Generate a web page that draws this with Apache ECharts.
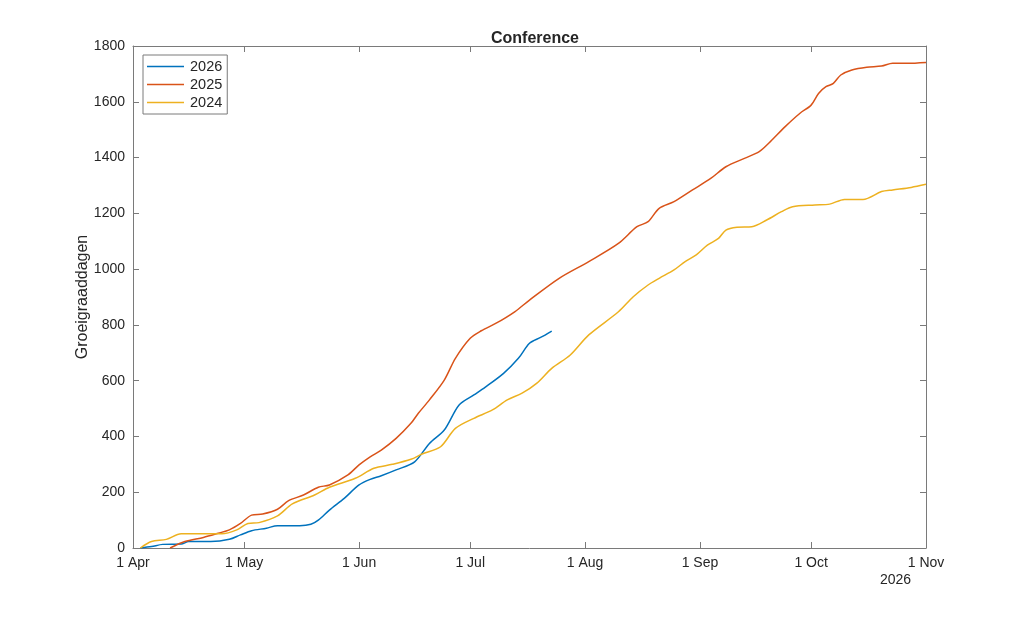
<!DOCTYPE html>
<html>
<head>
<meta charset="utf-8">
<title>Conference</title>
<script src="https://cdn.jsdelivr.net/npm/echarts@6/dist/echarts.min.js"></script>
<style>
  html, body { margin: 0; padding: 0; background: #fff; }
  #chart { width: 1024px; height: 617px; }
</style>
</head>
<body>
<div id="chart"></div>
<script>
// Groeigraaddagen per jaar
var dates2026 = ['2026-04-03','2026-04-06','2026-04-09','2026-04-14','2026-04-16','2026-04-22','2026-04-27','2026-04-30',
  '2026-05-03','2026-05-07','2026-05-10','2026-05-16','2026-05-19','2026-05-21','2026-05-24','2026-05-28',
  '2026-06-01','2026-06-04','2026-06-07','2026-06-11','2026-06-16','2026-06-20','2026-06-24','2026-06-28',
  '2026-07-02','2026-07-05','2026-07-10','2026-07-14','2026-07-17','2026-07-20','2026-07-23'];
var values2026 = [0, 5, 13, 14, 23, 23, 31, 47,
  62, 71, 80, 80, 85, 100, 136, 178,
  226, 246, 259, 280, 309, 375, 423, 513,
  549, 576, 626, 680, 734, 755, 778];

var dates2025 = ['2026-04-11','2026-04-15','2026-04-20','2026-04-24','2026-04-27','2026-04-30',
  '2026-05-03','2026-05-06','2026-05-10','2026-05-13','2026-05-17','2026-05-21','2026-05-24','2026-05-29',
  '2026-06-01','2026-06-04','2026-06-07','2026-06-11','2026-06-15','2026-06-17','2026-06-20','2026-06-24','2026-06-27',
  '2026-07-01','2026-07-04','2026-07-08','2026-07-13','2026-07-17','2026-07-25',
  '2026-08-02','2026-08-10','2026-08-15','2026-08-18','2026-08-21','2026-08-25','2026-08-30',
  '2026-09-04','2026-09-08','2026-09-13','2026-09-17','2026-09-20','2026-09-24','2026-09-28',
  '2026-10-01','2026-10-03','2026-10-05','2026-10-07','2026-10-09','2026-10-12','2026-10-16','2026-10-20','2026-10-23','2026-10-27',
  '2026-11-01'];
var values2025 = [0, 23, 38, 53, 65, 88,
  118, 122, 139, 170, 190, 218, 226, 262,
  298, 327, 351, 393, 447, 483, 531, 602, 680,
  752, 779, 806, 847, 889, 967,
  1027, 1092, 1152, 1170, 1218, 1242, 1284,
  1326, 1367, 1397, 1421, 1457, 1511, 1559,
  1588, 1630, 1654, 1666, 1696, 1714, 1724, 1728, 1738, 1738,
  1741];

var dates2024 = ['2026-04-03','2026-04-06','2026-04-10','2026-04-14','2026-04-19','2026-04-25','2026-04-29',
  '2026-05-02','2026-05-05','2026-05-10','2026-05-14','2026-05-20','2026-05-24','2026-05-31',
  '2026-06-05','2026-06-10','2026-06-15','2026-06-18','2026-06-23','2026-06-27',
  '2026-07-02','2026-07-07','2026-07-11','2026-07-15','2026-07-19','2026-07-23','2026-07-28',
  '2026-08-02','2026-08-10','2026-08-14','2026-08-18','2026-08-21','2026-08-25','2026-08-28','2026-08-31',
  '2026-09-03','2026-09-06','2026-09-08','2026-09-11','2026-09-15','2026-09-19','2026-09-23','2026-09-26',
  '2026-10-02','2026-10-06','2026-10-10','2026-10-15','2026-10-20','2026-10-23','2026-10-28',
  '2026-11-01'];
var values2024 = [0, 23, 31, 51, 51, 51, 65,
  88, 91, 115, 158, 190, 218, 250,
  286, 300, 318, 337, 363, 429,
  465, 495, 531, 555, 591, 644, 692,
  764, 847, 901, 943, 967, 997, 1027, 1051,
  1086, 1110, 1140, 1150, 1152, 1176, 1206, 1224,
  1230, 1233, 1250, 1250, 1278, 1284, 1293,
  1304];

var tickDates = ['2026-04-01','2026-05-01','2026-06-01','2026-07-01','2026-08-01','2026-09-01','2026-10-01','2026-11-01'];
var tickLabels = ['1 Apr','1 May','1 Jun','1 Jul','1 Aug','1 Sep','1 Oct','1 Nov'];

function toTime(s) {
  var p = s.split('-');
  return new Date(+p[0], +p[1] - 1, +p[2]).getTime();
}
function pairs(ds, vs) {
  return ds.map(function (d, i) { return [toTime(d), vs[i]]; });
}
var tickTimes = tickDates.map(toTime);

var chart = echarts.init(document.getElementById('chart'));
var font = 'Liberation Sans, Arial, Helvetica, sans-serif';
var axisColor = '#7a7a7a';
var textColor = '#262626';

function lineSeries(name, data, color) {
  return {
    name: name,
    type: 'line',
    data: data,
    showSymbol: false,
    smooth: 0.3,
    lineStyle: { color: color, width: 1.5 },
    itemStyle: { color: color },
    emphasis: { disabled: true },
    z: 3
  };
}

// x axis is a plain value axis holding timestamps, ticks at month starts
function xAxisBase(pos, showLabels) {
  return {
    type: 'value',
    position: pos,
    min: tickTimes[0],
    max: tickTimes[tickTimes.length - 1],
    axisLine: { show: true, onZero: false, lineStyle: { color: axisColor, width: 1 } },
    axisTick: { show: true, inside: true, length: 6, customValues: tickTimes, lineStyle: { color: axisColor } },
    axisLabel: {
      show: showLabels,
      customValues: tickTimes,
      fontSize: 14,
      color: textColor,
      margin: 8,
      formatter: function (v) {
        var i = tickTimes.indexOf(v);
        return i >= 0 ? tickLabels[i] : '';
      }
    },
    splitLine: { show: false }
  };
}

var option = {
  animation: false,
  backgroundColor: '#fff',
  textStyle: { fontFamily: font },
  title: {
    text: 'Conference',
    left: 530,
    textAlign: 'center',
    top: 26,
    textStyle: { fontSize: 16, fontWeight: 'bold', color: textColor, fontFamily: font }
  },
  legend: {
    orient: 'vertical',
    left: 143,
    top: 55,
    itemWidth: 37,
    itemHeight: 1.5,
    itemGap: 3,
    icon: 'rect',
    padding: [4, 5, 4, 4],
    borderColor: axisColor,
    borderWidth: 1,
    backgroundColor: '#fff',
    textStyle: { fontSize: 14.5, color: textColor, fontFamily: font, padding: [0, 0, 0, 1] },
    data: ['2026', '2025', '2024']
  },
  grid: { left: 133, right: 98, top: 46, bottom: 69, containLabel: false },
  xAxis: [xAxisBase('bottom', true), xAxisBase('top', false)],
  yAxis: [{
    type: 'value',
    min: 0,
    max: 1800,
    interval: 200,
    name: 'Groeigraaddagen',
    nameLocation: 'middle',
    nameGap: 42,
    nameMoveOverlap: false,
    nameTextStyle: { fontSize: 16, color: textColor, fontFamily: font },
    axisLine: { show: true, lineStyle: { color: axisColor, width: 1 } },
    axisTick: { show: true, inside: true, length: 6, lineStyle: { color: axisColor } },
    axisLabel: { fontSize: 14, color: textColor, margin: 8, formatter: function (v) { return String(v); } },
    splitLine: { show: false }
  }, {
    type: 'value',
    position: 'right',
    min: 0,
    max: 1800,
    interval: 200,
    axisLine: { show: true, onZero: false, lineStyle: { color: axisColor, width: 1 } },
    axisTick: { show: true, inside: true, length: 6, lineStyle: { color: axisColor } },
    axisLabel: { show: false },
    splitLine: { show: false }
  }],
  graphic: [{
    type: 'text',
    left: 880,
    top: 573,
    style: { text: '2026', fontSize: 14, fill: textColor, fontFamily: font }
  }],
  series: [
    lineSeries('2026', pairs(dates2026, values2026), '#0072BD'),
    lineSeries('2025', pairs(dates2025, values2025), '#D95319'),
    lineSeries('2024', pairs(dates2024, values2024), '#EDB120')
  ]
};

chart.setOption(option);
</script>
</body>
</html>
